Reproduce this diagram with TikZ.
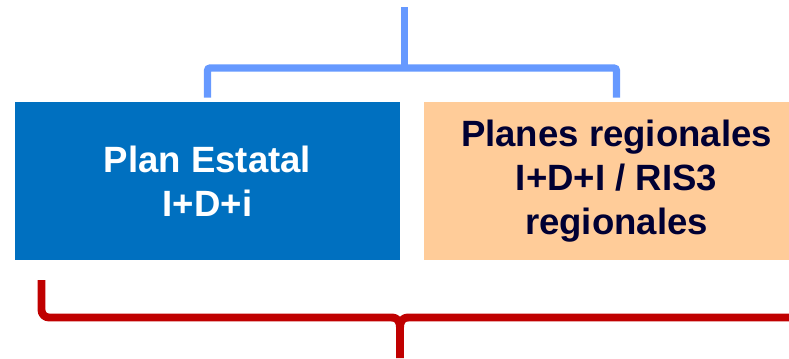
\documentclass[tikz,border=0pt]{standalone}
\usepackage{fontspec}
\setmainfont{Liberation Sans}
\usepackage{xcolor}
\usepackage{tikz}
\usetikzlibrary{calc,positioning}
\definecolor{boxblue}{HTML}{0070C0}
\definecolor{boxpeach}{HTML}{FFCC99}
\definecolor{navy}{HTML}{000033}
\definecolor{linkblue}{HTML}{6699FF}
\definecolor{bracered}{HTML}{C00000}
\tikzset{
  PlanBox/.style={
    fill=boxblue, text=white,
    minimum width=9.625cm, minimum height=3.95cm,
    inner sep=0pt, align=center,
    font=\fontsize{26}{31.5}\selectfont\bfseries
  },
  RegionBox/.style={
    PlanBox, fill=boxpeach, text=navy
  },
  TreeLink/.style={
    draw=linkblue, line width=5.3pt,
    rounded corners=2pt
  },
  BraceLine/.style={
    draw=bracered, line width=5.6pt,
    line join=round
  }
}

\begin{document}
\begin{tikzpicture}[x=0.025cm, y=0.025cm]
  \useasboundingbox (0,0) rectangle (789,358);
  \clip (0,0) rectangle (789,358);

  \node[PlanBox] (estatal) at (207.5,177) {Plan Estatal\\I+D+i};
  \node[RegionBox] (regional) at (616.5,177) {Planes regionales\\I+D+I / RIS3\\regionales};

  % tree above the boxes
  \coordinate (top) at (404.5,351);
  \coordinate (hub) at (404.5,290);
  \draw[TreeLink] (top) -- (hub);
  \draw[TreeLink] ([yshift=0.1cm]estatal.north) |- (hub) -| ([yshift=0.1cm]regional.north);

  % brace below
  \coordinate (left) at (41.5,78);
  \coordinate (right) at (800,40.5);
  \coordinate (tip) at (400,0);
  \draw[BraceLine] (left) -- (41.5,48) to[out=-90,in=180] (49,40.5)
    -- (391,40.5) .. controls (398,40.5) and (400,37) .. (400,29) -- (tip);
  \draw[BraceLine] (right) -- (409,40.5) .. controls (402,40.5) and (400,37) .. (400,29);
\end{tikzpicture}
\end{document}
